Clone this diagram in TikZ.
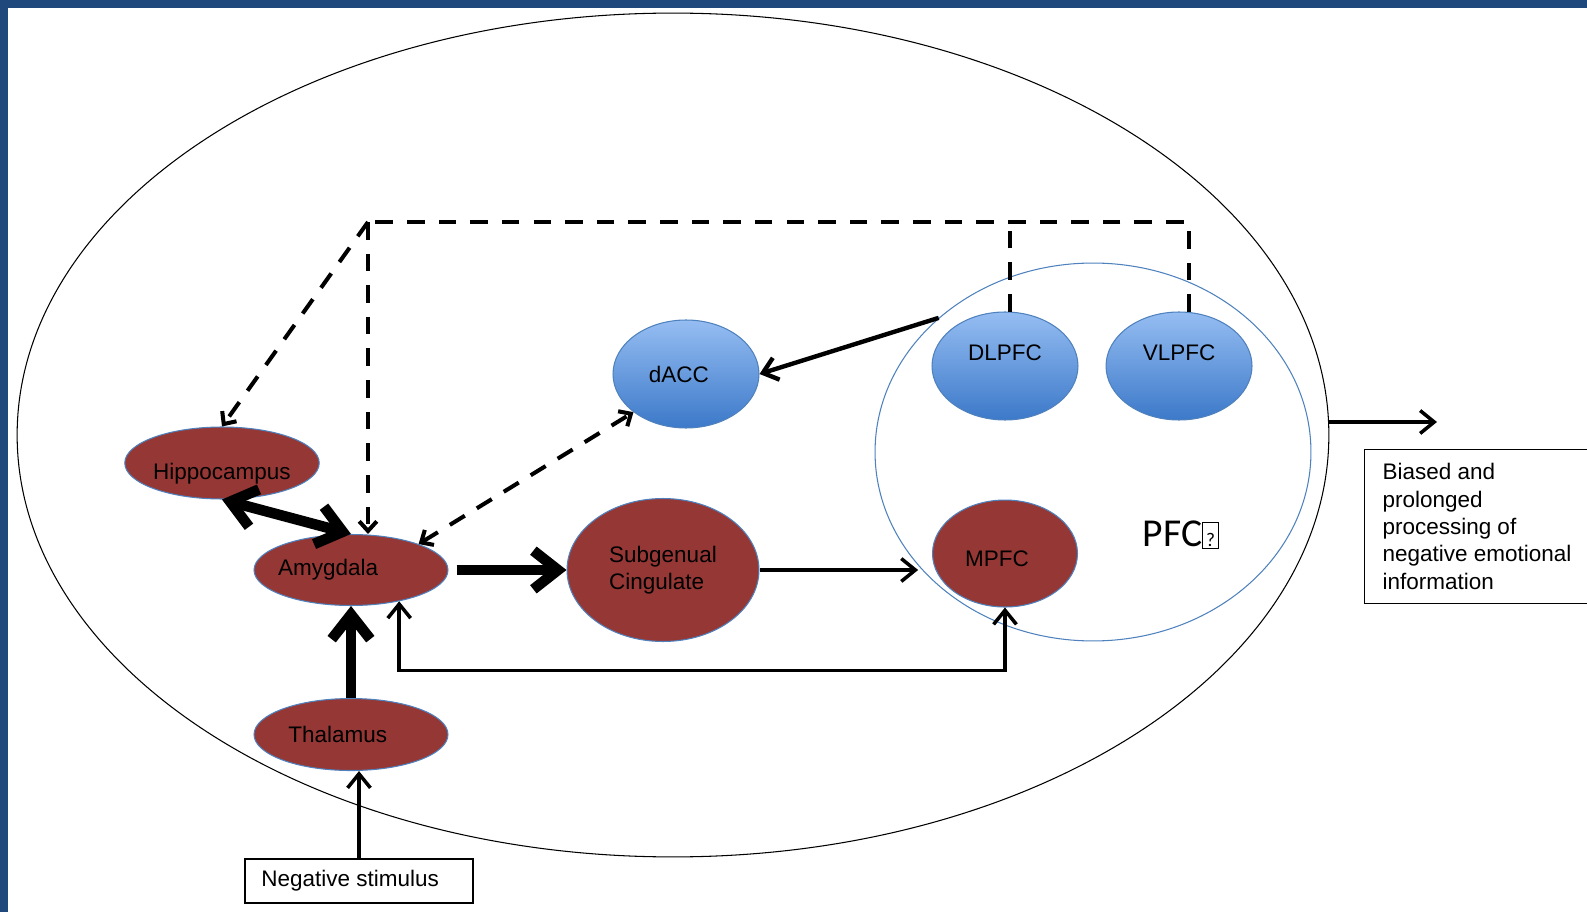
\documentclass[tikz,border=0pt]{standalone}
\usepackage{fontspec}
\setmainfont{Liberation Sans}
\newfontfamily\pfcfont{Carlito}
\usetikzlibrary{arrows.meta,positioning,shapes.geometric}

\definecolor{frameblue}{HTML}{1F497D}
\definecolor{brainred}{HTML}{953735}
\definecolor{rimblue}{HTML}{4F81BD}
\definecolor{topblue}{HTML}{95BDF2}
\definecolor{botblue}{HTML}{3C79C9}

\newcommand{\missingglyph}{{\setlength{\fboxsep}{0.4pt}\setlength{\fboxrule}{0.5pt}%
  \fbox{\makebox[8pt]{\rule[-0.5pt]{0pt}{13.5pt}\fontsize{11}{11}\selectfont ?}}}}
% label set a little left of the region's centre
\newcommand{\leftlabel}[2]{\makebox[0pt]{#2\kern#1}}

\tikzset{
  small barb/.tip={Straight Barb[length=5.5pt,width=10pt]},
  thin barb/.tip={Straight Barb[length=8pt,width=13pt]},
  heavy barb/.tip={Straight Barb[length=14pt,width=22pt]},
  region/.style={ellipse, draw=rimblue, line width=0.6pt, inner sep=0pt,
    font=\fontsize{12.8}{15.6}\selectfont},
  redregion/.style={region, fill=brainred},
  blueregion/.style={region, top color=topblue, bottom color=botblue,
    minimum width=2.92cm, minimum height=2.16cm},
  textbox/.style={draw, line width=0.6pt, inner sep=0pt,
    font=\fontsize{12.8}{15.6}\selectfont},
  fine/.style={line width=2pt, -{thin barb}},
  medium/.style={line width=2.5pt, -{thin barb}},
  heavy/.style={line width=6pt, -{heavy barb}},
  dashline/.style={line width=2.3pt, dash pattern=on 10pt off 8pt},
}

\begin{document}
\begin{tikzpicture}[x=0.02cm, y=-0.02cm]
    \useasboundingbox (0,0) rectangle (1587,912);
    \fill[frameblue] (0,0) rectangle (1587,8);
    \fill[frameblue] (0,0) rectangle (8,912);

    % outer and prefrontal outlines
    \node[ellipse, draw, line width=0.6pt, minimum width=26.24cm, minimum height=16.88cm] (brain) at (673,435) {};
    \node[ellipse, draw=rimblue, line width=0.6pt, minimum width=8.72cm, minimum height=7.56cm] (pfc) at (1093,452) {};
    \node[font=\pfcfont\fontsize{22.5}{22.5}\selectfont] (pfclabel) at (1181,535) {PFC\missingglyph};

    % regions
    \node[redregion, minimum width=3.86cm, minimum height=1.44cm, text height=19pt, text depth=0pt] (hippo) at (222,463) {Hippocampus};
    \node[redregion, minimum width=3.88cm, minimum height=1.42cm] (amyg) at (351,570) {\leftlabel{26pt}{Amygdala}};
    \node[redregion, minimum width=3.88cm, minimum height=1.44cm, below=1.84cm of amyg] (thal) {\leftlabel{15pt}{Thalamus}};
    \node[redregion, minimum width=3.84cm, minimum height=2.86cm, align=left] (sub) at (663,570) {Subgenual\\Cingulate};
    \node[blueregion] (dacc) at (686,374) {\leftlabel{8pt}{dACC}};
    \node[blueregion, text height=0pt, text depth=6.8pt] (dlpfc) at (1005,366) {DLPFC};
    \node[blueregion, text height=0pt, text depth=6.8pt, right=0.54cm of dlpfc] (vlpfc) {VLPFC};
    \node[redregion, minimum width=2.9cm, minimum height=2.14cm, text height=14.8pt, text depth=0pt, below=1.58cm of dlpfc] (mpfc) {\leftlabel{9pt}{MPFC}};

    \node[textbox, minimum width=4.56cm, minimum height=0.88cm] (stim) at (359,881) {\leftlabel{10pt}{Negative stimulus}};
    \node[textbox, anchor=north west, align=left, inner xsep=0.36cm, minimum height=3.08cm] (bias) at (1364,449)
        {Biased and\\prolonged\\processing of\\negative emotional\\information};

    \coordinate (junction) at (368,222);
    \coordinate (outtip) at (1437,422);

    % connections
    \draw[fine] (stim.north) -- (stim.north |- thal.south);
    \draw[heavy] (thal) -- (amyg);
    \draw[heavy, {heavy barb}-{heavy barb}] (hippo.south) -- (amyg.north);
    \draw[heavy, shorten <=0.16cm] (amyg.east) -- (sub.west);
    \draw[fine] (sub.east) -- (sub.east -| pfc.213);
    \draw[fine, {thin barb}-{thin barb}] (mpfc.south) -- ++(0,63) -| (amyg.-33);
    \draw[medium] (pfc.139) -- (dacc.east);
    \draw[fine] (outtip -| brain.east) -- (outtip);

    % top-down dashed links
    \draw[dashline, {small barb}-{small barb}] (amyg.21) -- (dacc.216);
    \draw[dashline] (vlpfc.80) |- (junction);
    \draw[dashline] (dlpfc.85) -- (dlpfc.85 |- junction);
    \draw[dashline, -{small barb}] (junction) -- (junction |- amyg.north);
    \draw[dashline, -{small barb}] (junction) -- (hippo.north);
\end{tikzpicture}
\end{document}
